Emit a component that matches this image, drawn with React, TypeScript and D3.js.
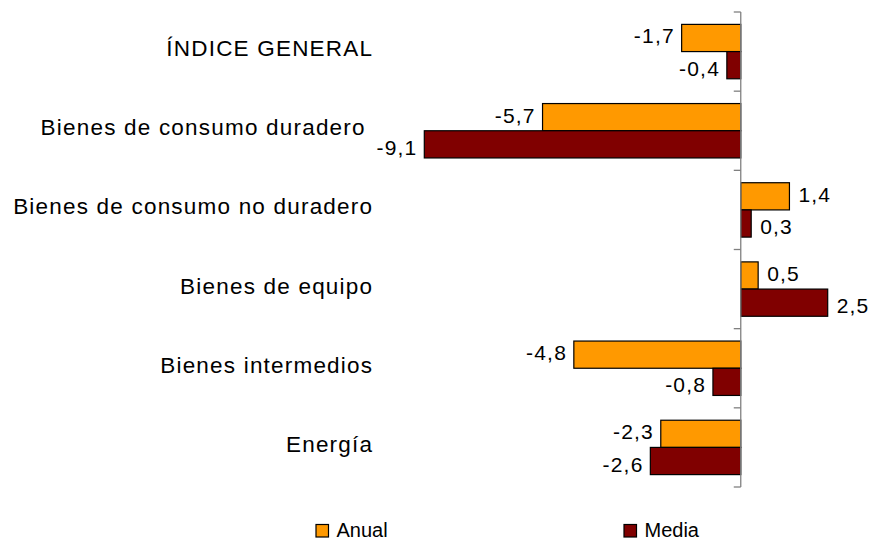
import React from "react";
import * as d3 from "d3";

const categories = [
  "ÍNDICE GENERAL",
  "Bienes de consumo duradero ",
  "Bienes de consumo no duradero",
  "Bienes de equipo",
  "Bienes intermedios",
  "Energía",
];
const seriesNames = ["Anual", "Media"];
const anual = [-1.7, -5.7, 1.4, 0.5, -4.8, -2.3];
const media = [-0.4, -9.1, 0.3, 2.5, -0.8, -2.6];
const seriesValues = [anual, media];
const colors = ["#FF9900", "#800000"];

const W = 871;
const H = 539;
const FONT = "'Liberation Sans', Arial, sans-serif";
const CAT_FS = 22.5;
const CAT_LS = 1.2;
const NUM_FS = 21;
const NUM_LS = 1.2;

export default function App() {
  const all = [...anual, ...media];
  const x = d3
    .scaleLinear()
    .domain([d3.min(all) as number, d3.max(all) as number])
    .range([424.3, 827.7]);
  const x0 = x(0);
  const y0 = d3
    .scaleBand<string>()
    .domain(categories)
    .range([12, 487])
    .paddingInner(0.313)
    .paddingOuter(0.1565);
  const y1 = d3
    .scaleBand<string>()
    .domain(seriesNames)
    .range([0, y0.bandwidth()]);
  const step = y0.step();
  const tickYs = d3.range(categories.length + 1).map((i) => 12 + i * step);
  const fmt = (v: number) => d3.format(".1f")(v).replace(".", ",").replace("−", "-");

  return (
    <svg
      width={W}
      height={H}
      style={{ position: "absolute", left: 0, top: 0, background: "#fff" }}
      fontFamily={FONT}
    >
      {categories.map((c, ci) => (
        <g key={c}>
          <text
            x={372 + CAT_LS}
            y={(y0(c) as number) + y0.bandwidth() / 2 - 3}
            textAnchor="end"
            dominantBaseline="central"
            fontSize={CAT_FS}
            letterSpacing={CAT_LS}
            style={{ whiteSpace: "pre" }}
          >
            {c}
          </text>
          {seriesNames.map((s, si) => {
            const v = seriesValues[si][ci];
            const yy = (y0(c) as number) + (y1(s) as number);
            const h = y1.bandwidth();
            const xl = Math.min(x(v), x0);
            const w = Math.abs(x(v) - x0);
            const ly = yy + h / 2 + (si === 0 ? -2 : 3);
            return (
              <g key={s}>
                <rect
                  x={xl}
                  y={yy}
                  width={w}
                  height={h}
                  fill={colors[si]}
                  stroke="#000"
                  strokeWidth={1.2}
                />
                <text
                  x={v < 0 ? x(v) - 8 + NUM_LS : x(v) + 9}
                  y={ly}
                  textAnchor={v < 0 ? "end" : "start"}
                  dominantBaseline="central"
                  fontSize={NUM_FS}
                  letterSpacing={NUM_LS}
                >
                  {fmt(v)}
                </text>
              </g>
            );
          })}
        </g>
      ))}
      <line x1={x0} x2={x0} y1={12} y2={487} stroke="#808080" strokeWidth={1.3} />
      {tickYs.map((t, i) => (
        <line key={i} x1={x0 - 7} x2={x0} y1={t} y2={t} stroke="#808080" strokeWidth={1.3} />
      ))}
      {seriesNames.map((s, si) => {
        const lx = si === 0 ? 316 : 624;
        return (
          <g key={s}>
            <rect x={lx} y={524.5} width={12.5} height={12.5} fill={colors[si]} stroke="#000" strokeWidth={1.2} />
            <text x={lx + 20.5} y={530} dominantBaseline="central" fontSize={20}>
              {s}
            </text>
          </g>
        );
      })}
    </svg>
  );
}
